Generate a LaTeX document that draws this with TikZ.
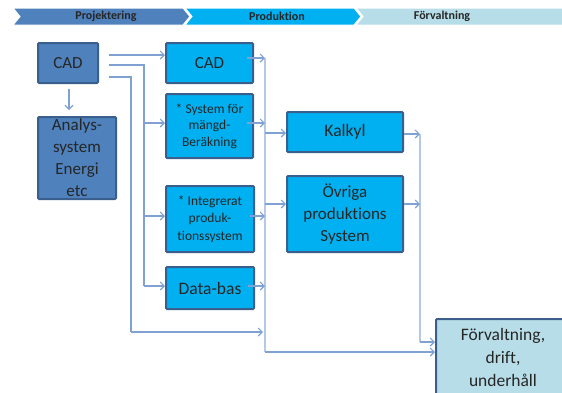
\documentclass[tikz,border=0pt]{standalone}
\usepackage{fontspec}
\setmainfont[RawFeature=-liga]{Carlito}
\usetikzlibrary{arrows.meta}
\definecolor{darkbox}{HTML}{4F81BD}
\definecolor{lightbox}{HTML}{00B0F0}
\definecolor{paleBox}{HTML}{B7DEE8}
\definecolor{edgecol}{HTML}{3A5F8C}
\definecolor{arrcol}{HTML}{7FA2D2}
\definecolor{buscol}{HTML}{B4C9E6}
\tikzset{
  box/.style={draw=edgecol, line width=2pt, rounded corners=1pt, align=center, inner sep=1pt, text=black!85},
  darkb/.style={box, fill=darkbox},
  lightb/.style={box, fill=lightbox},
  paleb/.style={box, fill=paleBox},
  arr/.style={draw=arrcol, line width=1.1pt, -{Straight Barb[length=4pt,width=8pt]}},
  ln/.style={draw=arrcol, line width=1.1pt},
  bus/.style={draw=buscol, line width=1.1pt},
  chev/.style={draw=white, line width=1pt},
  hdr/.style={font=\fontsize{12}{14}\selectfont\bfseries, text=black!85},
}
\begin{document}
\begin{tikzpicture}[x=1pt,y=-1pt]
\useasboundingbox (0,0) rectangle (562,392);
% header chevrons
\fill[chev, fill=darkbox] (13,8) -- (183,8) -- (190,16.5) -- (183,25) -- (13,25) -- (20,16.5) -- cycle;
\fill[chev, fill=lightbox] (185,8) -- (354,8) -- (361,16.5) -- (354,25) -- (185,25) -- (192,16.5) -- cycle;
\fill[chev, fill=paleBox] (356,8) -- (563,8) -- (563,25) -- (356,25) -- (363,16.5) -- cycle;
\node[hdr] (h1) at (106,16.5) {Projektering};
\node[hdr] (h2) at (277,16.5) {Produktion};
\node[hdr] (h3) at (442,16.5) {Förvaltning};
% boxes
\node[darkb, minimum width=60pt, minimum height=40pt, font=\fontsize{17}{18}\selectfont] (cad1) at (68,63) {CAD};
\node[darkb, minimum width=78pt, minimum height=82pt, font=\fontsize{17}{22}\selectfont] (ana) at (77,158) {Analys-\\system\\Energi\\etc};
\node[lightb, minimum width=87pt, minimum height=40pt, font=\fontsize{17}{18}\selectfont] (cad2) at (209.5,63) {CAD};
\node[lightb, minimum width=87pt, minimum height=64pt, font=\fontsize{13.5}{16.5}\selectfont] (sys) at (209.5,126) {* System för\\mängd-\\Beräkning};
\node[lightb, minimum width=88pt, minimum height=66pt, font=\fontsize{13.5}{17.5}\selectfont] (integ) at (210,219) {* Integrerat\\produk-\\tionssystem};
\node[lightb, minimum width=88pt, minimum height=42pt, font=\fontsize{17.5}{18}\selectfont] (db) at (210,288) {Data-bas};
\node[lightb, minimum width=116pt, minimum height=40pt, font=\fontsize{17.5}{18}\selectfont] (kalk) at (345,132) {Kalkyl};
\node[lightb, minimum width=116pt, minimum height=76pt, font=\fontsize{17}{22}\selectfont] (ovr) at (345,214) {Övriga\\produktions\\System};
\node[paleb, minimum width=134pt, minimum height=84pt, font=\fontsize{17.5}{23}\selectfont, text depth=8pt] (forv) at (503,361) {Förvaltning,\\drift,\\underhåll};
% connection points
\coordinate (d0) at (69,89);
\coordinate (d1) at (69,110);
\coordinate (a1) at (109,55);
\coordinate (a2) at (109,65);
\coordinate (a3) at (109,77);
\coordinate (b2) at (144,65);
\coordinate (b3) at (131,77);
\coordinate (bus1top) at (265,58);
\coordinate (bus1bot) at (265,352);
\coordinate (bus2top) at (420,134);
\coordinate (bus2bot) at (420,342);
% left feeders
\draw[arr] (d0) -- (d1);
\draw[arr] (a1) -- (a1 -| cad2.west);
\draw[ln] (a2) -- (b2) -- (144,286);
\draw[arr] (144,123) -- (sys.west |- 0,123);
\draw[arr] (144,216) -- (integ.west |- 0,216);
\draw[arr] (144,286) -- (db.west |- 0,286);
\draw[ln] (a3) -- (b3) -- (131,332);
\draw[arr] (131,332) -- (263,332);
% bus 1
\draw[bus] (bus1top) -- (bus1bot);
\draw[arr] (247,58) -- (bus1top);
\draw[arr] (247,123) -- (265,123);
\draw[arr] (250,216) -- (265,216);
\draw[arr] (248,286) -- (265,286);
\draw[arr] (265,133) -- (kalk.west |- 0,133);
\draw[arr] (265,204) -- (ovr.west |- 0,204);
\draw[arr] (bus1bot) -- (forv.west |- 0,352);
% bus 2
\draw[bus] (bus2top) -- (bus2bot);
\draw[arr] (kalk.east |- 0,134) -- (bus2top);
\draw[arr] (ovr.east |- 0,204) -- (420,204);
\draw[arr] (bus2bot) -- (forv.west |- 0,342);
\end{tikzpicture}
\end{document}
